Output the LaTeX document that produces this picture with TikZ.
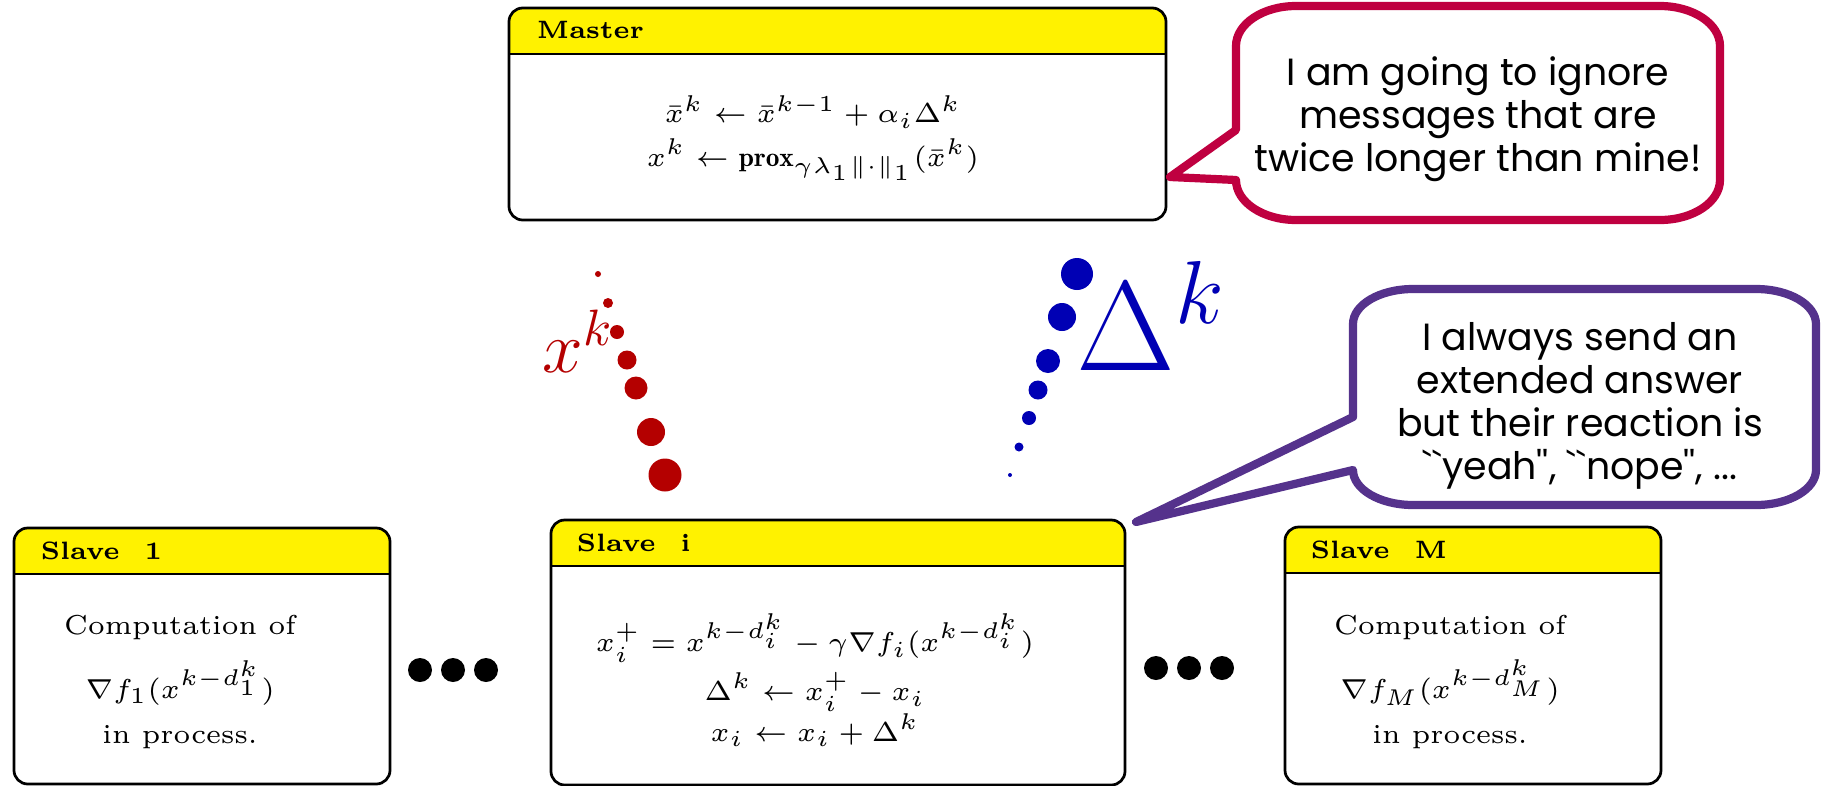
\RequirePackage{fix-cm}
\documentclass[tikz,border=0pt]{standalone}
\usepackage{amsmath}
\usepackage{fontspec}
\newfontfamily\talkfont{Poppins}
\definecolor{talkred}{RGB}{191,0,64}
\definecolor{talkviolet}{RGB}{85,50,140}
\definecolor{xkred}{RGB}{180,0,0}
\definecolor{dkblue}{RGB}{0,0,180}
\tikzset{
  card/.style={draw=black, line width=0.6pt, rounded corners=3pt},
  head/.style={anchor=west, inner sep=0pt, font=\fontsize{5.5}{6}\selectfont\bfseries},
  body/.style={align=center, inner sep=0pt, font=\fontsize{6}{8}\selectfont},
  bubble/.style={line width=1.8pt, fill=white, line join=round},
  talk/.style={align=center, inner sep=0pt, font=\talkfont\fontsize{8.3}{9.4}\selectfont},
}

\begin{document}
\begin{tikzpicture}[scale=0.77]
\useasboundingbox (0,0) rectangle (18.27,-7.86);

% frames: master, slave 1, slave i, slave M
\foreach \xa/\ya/\xb/\yb in {5.09/-0.08/11.66/-2.20, 0.14/-5.28/3.90/-7.84,
    5.51/-5.20/11.25/-7.85, 12.85/-5.27/16.61/-7.84}{
  \begin{scope}
    \clip[rounded corners=3pt] (\xa,\ya) rectangle (\xb,\yb);
    \fill[yellow] (\xa,\ya) rectangle (\xb,\ya-0.46);
  \end{scope}
  \draw[card] (\xa,\ya) rectangle (\xb,\yb);
  \draw[line width=0.6pt] (\xa,\ya-0.46) -- (\xb,\ya-0.46);
}

\node[head] (master) at (5.36,-0.30) {Master};
\node[head] (slave1) at (0.40,-5.51) {Slave\quad 1};
\node[head] (slavei) at (5.76,-5.43) {Slave\quad i};
\node[head] (slaveM) at (13.10,-5.50) {Slave\quad M};

\node[body] (mupdate) at (8.13,-1.38) {$\bar{x}^k \leftarrow \bar{x}^{k-1} + \alpha_i \Delta^k$\\[1.5pt]
  $x^k \leftarrow \mathbf{prox}_{\gamma\lambda_1\|\cdot\|_1}(\bar{x}^k)$};

\node[body] (s1text) at (1.80,-6.82) {Computation of\\[3.5pt] $\nabla f_1(x^{k-d_1^k})$\\[1.8pt] in process.};
\node[body] (sitext) at (8.15,-6.80) {$x_i^+ = x^{k-d_i^k} - \gamma\nabla f_i(x^{k-d_i^k})$\\[1pt]
  $\Delta^k \leftarrow x_i^+ - x_i$\\[-0.5pt] $x_i \leftarrow x_i + \Delta^k$};
\node[body] (sMtext) at (14.50,-6.82) {Computation of\\[3.5pt] $\nabla f_M(x^{k-d_M^k})$\\[1.8pt] in process.};

% dots
\foreach \x in {4.20,4.53,4.86} \fill (\x,-6.70) circle (0.12);
\foreach \x in {11.56,11.89,12.22} \fill (\x,-6.68) circle (0.12);

% messages on the way
\foreach \x/\y/\r in {5.98/-2.74/0.03, 6.08/-3.03/0.05, 6.17/-3.32/0.07, 6.27/-3.60/0.095,
    6.36/-3.88/0.115, 6.51/-4.32/0.14, 6.65/-4.75/0.165}
  \fill[xkred] (\x,\y) circle (\r);
\foreach \x/\y/\r in {10.10/-4.75/0.02, 10.19/-4.47/0.045, 10.29/-4.18/0.07, 10.38/-3.90/0.095,
    10.48/-3.61/0.12, 10.62/-3.17/0.14, 10.77/-2.74/0.16}
  \fill[dkblue] (\x,\y) circle (\r);
\node[xkred, anchor=base west, inner sep=0pt, font=\fontsize{16}{18}\selectfont] (xk) at (5.42,-3.72) {$x^k$};
\node[dkblue, anchor=base west, inner sep=0pt, font=\fontsize{28}{32}\selectfont] (dk) at (10.76,-3.70) {$\Delta^k$};

% speech bubbles
\draw[bubble, draw=talkred] (11.70,-1.77) -- (12.36,-1.80)
  arc[start angle=180, end angle=270, x radius=0.6, y radius=0.4] -- (16.60,-2.20)
  arc[start angle=270, end angle=360, x radius=0.6, y radius=0.4] -- (17.20,-0.46)
  arc[start angle=0, end angle=90, x radius=0.6, y radius=0.4] -- (12.96,-0.06)
  arc[start angle=90, end angle=180, x radius=0.6, y radius=0.4] -- (12.36,-1.30) -- cycle;
\node[talk] (mastersays) at (14.78,-1.19) {I am going to ignore\\messages that are\\twice longer than mine!};

\draw[bubble, draw=talkviolet] (11.36,-5.22) -- (13.53,-4.70)
  arc[start angle=180, end angle=270, x radius=0.6, y radius=0.35] -- (17.56,-5.05)
  arc[start angle=270, end angle=360, x radius=0.6, y radius=0.35] -- (18.16,-3.24)
  arc[start angle=0, end angle=90, x radius=0.6, y radius=0.35] -- (14.13,-2.89)
  arc[start angle=90, end angle=180, x radius=0.6, y radius=0.35] -- (13.53,-4.17) -- cycle;
\node[talk] (slavesays) at (15.80,-4.06) {I always send an\\extended answer\\but their reaction is\\
  \symbol{96}\symbol{96}yeah'', \symbol{96}\symbol{96}nope'', ...};
\end{tikzpicture}
\end{document}
